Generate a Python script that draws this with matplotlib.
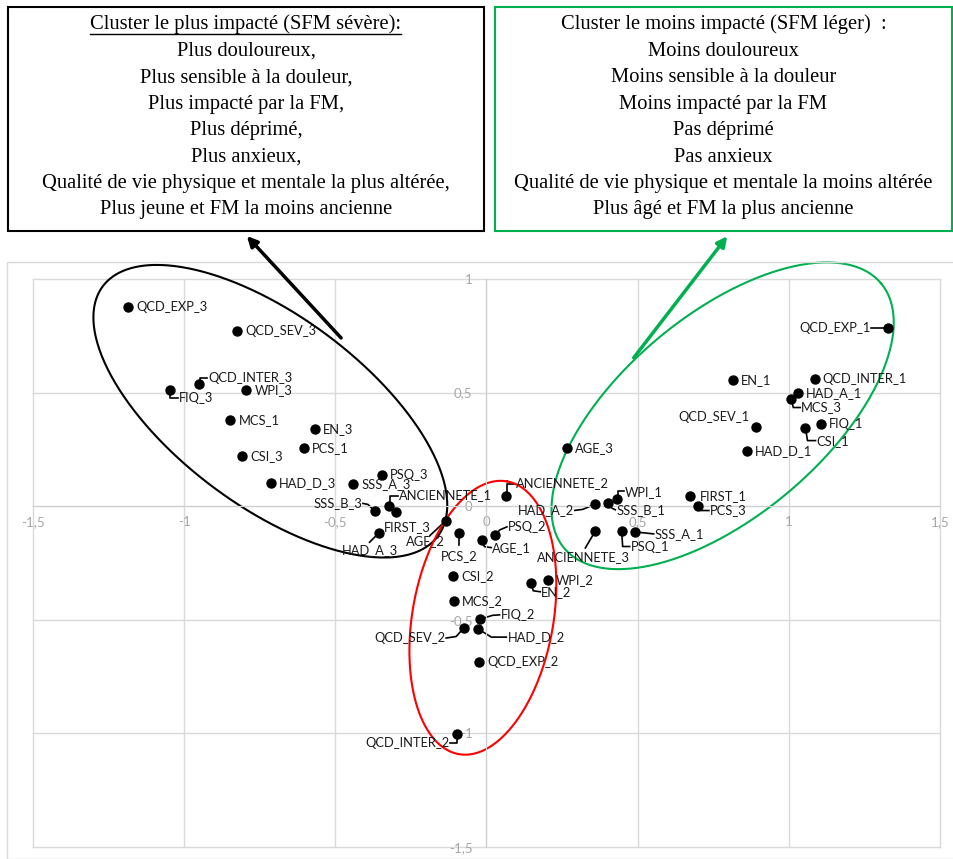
import numpy as np
import matplotlib.pyplot as plt
from matplotlib.patches import Rectangle, FancyArrowPatch

# Coordonnées des modalités (plan factoriel)
labels = ['QCD_EXP_3', 'QCD_SEV_3', 'QCD_INTER_3', 'FIQ_3', 'WPI_3', 'MCS_1', 'EN_3',
          'PCS_1', 'CSI_3', 'PSQ_3', 'HAD_D_3', 'SSS_A_3', 'ANCIENNETE_1', 'SSS_B_3',
          'FIRST_3', 'HAD_A_3', 'AGE_2', 'PCS_2', 'ANCIENNETE_2', 'PSQ_2', 'AGE_1',
          'CSI_2', 'MCS_2', 'EN_2', 'WPI_2', 'FIQ_2', 'QCD_SEV_2', 'HAD_D_2',
          'QCD_EXP_2', 'QCD_INTER_2', 'HAD_A_2', 'SSS_B_1', 'WPI_1', 'ANCIENNETE_3',
          'PSQ_1', 'SSS_A_1', 'FIRST_1', 'PCS_3', 'AGE_3', 'HAD_D_1', 'QCD_SEV_1',
          'CSI_1', 'FIQ_1', 'MCS_3', 'HAD_A_1', 'EN_1', 'QCD_INTER_1', 'QCD_EXP_1']
x = [-1.185, -0.824, -0.950, -1.047, -0.794, -0.847, -0.567,
     -0.604, -0.809, -0.345, -0.712, -0.440, -0.322, -0.369,
     -0.300, -0.357, -0.134, -0.090, 0.064, 0.028, -0.014,
     -0.110, -0.107, 0.148, 0.202, -0.023, -0.074, -0.027,
     -0.025, -0.096, 0.358, 0.403, 0.432, 0.360,
     0.447, 0.490, 0.673, 0.699, 0.267, 0.862, 0.890,
     1.055, 1.105, 1.008, 1.031, 0.815, 1.086, 1.329]
y = [0.876, 0.771, 0.537, 0.513, 0.510, 0.381, 0.340,
     0.255, 0.222, 0.138, 0.101, 0.096, 0.003, -0.023,
     -0.026, -0.119, -0.063, -0.119, 0.047, -0.126, -0.147,
     -0.309, -0.419, -0.337, -0.323, -0.498, -0.534, -0.541,
     -0.684, -1.001, 0.008, 0.015, 0.031, -0.109,
     -0.107, -0.113, 0.043, 0.003, 0.255, 0.241, 0.350,
     0.346, 0.360, 0.474, 0.500, 0.554, 0.562, 0.785]

ticks = [-1.5, -1, -0.5, 0, 0.5, 1, 1.5]
xtick_labels = ['-1,5', '-1', '-0,5', '0', '0,5', '1', '1,5']
yticks = [-1.5, -1, -0.5, 0, 0.5, 1]
ytick_labels = ['-1,5', '-1', '-0,5', '0', '0,5', '1']

box_left = ['Cluster le plus impacté (SFM sévère):', 'Plus douloureux,',
            'Plus sensible à la douleur,', 'Plus impacté par la FM,', 'Plus déprimé,',
            'Plus anxieux,', 'Qualité de vie physique et mentale la plus altérée,',
            'Plus jeune et FM la moins ancienne']
box_right = ['Cluster le moins impacté (SFM léger)  :', 'Moins douloureux',
             'Moins sensible à la douleur', 'Moins impacté par la FM', 'Pas déprimé',
             'Pas anxieux', 'Qualité de vie physique et mentale la moins altérée',
             'Plus âgé et FM la plus ancienne']

# placement des étiquettes (décalage en pixels, alignement, trait de rappel)
layout = {
    'QCD_INTER_3': (9, 6.5, 'left', [(1, 0), (1, 6.5), (8, 6.5)]),
    'FIQ_3': (9, -8, 'left', [(0, 0), (0, -8), (8, -8)]),
    'ANCIENNETE_1': (10, 10, 'left', [(1, 0), (1, 10), (9, 10)]),
    'SSS_B_3': (-13, 8, 'right', [(0, 0), (-7, 7), (-12, 8)]),
    'FIRST_3': (12, -15, 'center', None),
    'HAD_A_3': (-9, -17, 'center', [(0, 0), (-9, -9)]),
    'AGE_2': (-1, -21, 'right', [(0, 0), (-16, -15)]),
    'PCS_2': (0, -23, 'center', [(0, 0), (0, -12)]),
    'ANCIENNETE_2': (10, 12, 'left', [(1, 0), (1, 12), (9, 12)]),
    'PSQ_2': (13, 8, 'left', [(0, 0), (5, 5), (12, 8)]),
    'AGE_1': (10, -8, 'left', [(0, 0), (2, -7), (9, -8)]),
    'HAD_A_2': (-21, -6, 'right', [(0, 0), (-12, -5), (-20, -6)]),
    'SSS_B_1': (8, -7, 'left', [(0, 0), (3, -5), (7, -7)]),
    'WPI_1': (8, 7, 'left', [(1, 0), (1, 8), (7, 8)]),
    'FIRST_1': (10, 0, 'left', None),
    'PCS_3': (12, -5, 'left', [(0, 0), (3, -5), (11, -5)]),
    'ANCIENNETE_3': (-12, -26, 'center', [(0, 0), (-10, -17)]),
    'PSQ_1': (9, -16, 'left', [(0, 0), (1, -16), (8, -16)]),
    'SSS_A_1': (20, -2, 'left', [(0, 0), (19, -2)]),
    'QCD_EXP_1': (-18, 0, 'right', [(0, 0), (-17, 0)]),
    'MCS_3': (10, -9, 'left', [(0, 0), (2, -9), (9, -9)]),
    'QCD_SEV_1': (-6, 10, 'right', None),
    'CSI_1': (11, -13, 'left', [(0, 0), (2, -13), (10, -13)]),
    'EN_2': (10, -9, 'left', [(0, 0), (2, -8), (9, -9)]),
    'FIQ_2': (21, 4, 'left', [(0, 0), (13, 4), (20, 4.5)]),
    'QCD_SEV_2': (-19, -10.5, 'right', [(0, 0), (-8, -9), (-18, -10.5)]),
    'HAD_D_2': (30, -8, 'left', [(0, 0), (13, -8), (28, -8)]),
    'QCD_INTER_2': (-8, -9, 'right', [(0, 0), (0, -9), (-7, -9)]),
}

label_font = 'Lato'

W, H = 954, 859
fig = plt.figure(figsize=(W / 100, H / 100), dpi=100)

def fpx(px, py):
    # pixels (origine en haut à gauche) -> fraction de figure
    return px / W, 1 - py / H

# cadre de la zone graphique
fig.add_artist(Rectangle(fpx(7, 859), (954 - 7) / W, (859 - 262) / H, transform=fig.transFigure,
                         fill=False, edgecolor='#d9d9d9', lw=1))

ax = fig.add_axes([33 / W, 1 - 847 / H, (940 - 33) / W, (847 - 279) / H])
ax.set_xlim(-1.5, 1.5)
ax.set_ylim(-1.5, 1)
ax.set_facecolor('none')
for s in ['top', 'right']:
    ax.spines[s].set_visible(False)
ax.spines['left'].set_position(('data', 0))
ax.spines['bottom'].set_position(('data', 0))
ax.spines['left'].set_color('#d0d0d0')
ax.spines['bottom'].set_color('#d0d0d0')
ax.set_xticks(ticks)
ax.set_xticklabels(xtick_labels)
ax.set_yticks(yticks)
ax.set_yticklabels(ytick_labels)
ax.tick_params(length=0, labelcolor='#a6a6a6', labelsize=9.5)
ax.tick_params(axis='x', pad=7)
ax.tick_params(axis='y', pad=10)
for lab in ax.get_xticklabels() + ax.get_yticklabels():
    lab.set_family(label_font)
ax.grid(True, color='#d9d9d9', lw=1)
ax.set_axisbelow(True)
for gl in ax.get_xgridlines() + ax.get_ygridlines():
    gl.set_clip_on(False)

ax.scatter(x, y, s=42, color='black', zorder=3)

to_disp = ax.transData.transform
to_data = ax.transData.inverted().transform

for name, xi, yi in zip(labels, x, y):
    dx, dy, ha, leader = layout.get(name, (8, 0, 'left', None))
    ax.annotate(name, xy=(xi, yi), xytext=(dx, dy), textcoords='offset pixels',
                ha=ha, va='center', fontsize=9.3, family=label_font, color='#1a1a1a', zorder=4)
    if leader:
        p = to_disp((xi, yi))
        pts = to_data(np.array(leader) + p)
        ax.plot(pts[:, 0], pts[:, 1], color='black', lw=1.2, zorder=2)

# ellipses des clusters (centre en données, demi-axes en pixels)
ellipses = [((-0.715, 0.418), 209, 95, -36.7, 'black'),
            ((0.781, 0.398), 206.5, 100.8, 39.9, '#00b050'),
            ((-0.012, -0.491), 138.5, 70.5, 80, 'red')]
t = np.linspace(0, 2 * np.pi, 400)
for c, a, b, ang, col in ellipses:
    cx, cy = to_disp(c)
    th = np.radians(ang)
    ex = cx + a * np.cos(t) * np.cos(th) - b * np.sin(t) * np.sin(th)
    ey = cy + a * np.cos(t) * np.sin(th) + b * np.sin(t) * np.cos(th)
    pts = to_data(np.column_stack([ex, ey]))
    ax.plot(pts[:, 0], pts[:, 1], color=col, lw=1.5, zorder=2, clip_on=False)

# encadrés de texte
def text_box(lines, left, right, top, bottom, edge, underline_first=False):
    fig.add_artist(Rectangle(fpx(left, bottom), (right - left) / W, (bottom - top) / H,
                             transform=fig.transFigure, fill=True, facecolor='white',
                             edgecolor=edge, lw=1.5))
    xc = (left + right) / 2
    for i, line in enumerate(lines):
        tx = fig.text(*fpx(xc, 29.5 + i * 26.4), line, ha='center', va='baseline',
                      fontsize=14.8, family='Liberation Serif', color='black')
        if i == 0 and underline_first:
            fig.canvas.draw()
            bb = tx.get_window_extent()
            yy = fpx(0, 33.5)[1]
            fig.add_artist(plt.Line2D([bb.x0 / W, bb.x1 / W], [yy, yy], transform=fig.transFigure,
                                      color='black', lw=1))

text_box(box_left, 8, 484, 7, 231, 'black', underline_first=True)
text_box(box_right, 495, 952, 7, 231, '#00b050')

# flèches vers les encadrés
fig.add_artist(FancyArrowPatch(fpx(343, 340), fpx(245, 234), transform=fig.transFigure,
                               arrowstyle='-|>', mutation_scale=15, lw=2.5, color='black'))
fig.add_artist(FancyArrowPatch(fpx(632, 360), fpx(729, 234), transform=fig.transFigure,
                               arrowstyle='-|>', mutation_scale=15, lw=2.5, color='#00b050'))

fig.savefig('out.png', dpi=100)
